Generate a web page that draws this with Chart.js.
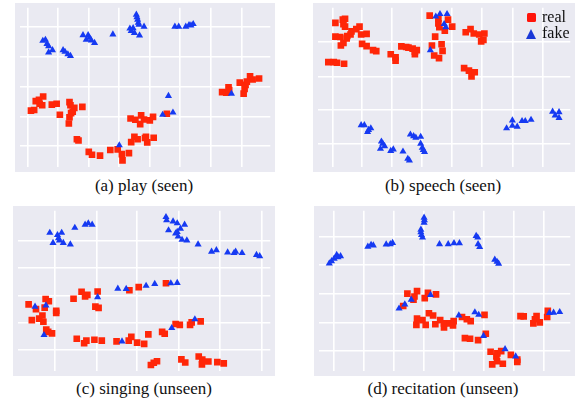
<!DOCTYPE html>
<html>
<head>
<meta charset="utf-8">
<script src="https://cdn.jsdelivr.net/npm/chart.js@4/dist/chart.umd.min.js"></script>
<style>
  html, body { margin: 0; padding: 0; background: #ffffff; }
  #wrap { position: relative; width: 577px; height: 401px; overflow: hidden; }
  .panel { position: absolute; background: #eaeaf2; }
  .cap { position: absolute; width: 240px; text-align: center; font-family: "Liberation Serif", "DejaVu Serif", serif;
         font-size: 17px; line-height: 17px; color: #111; white-space: nowrap; }
  .legtxt { position: absolute; font-family: "Liberation Serif", "DejaVu Serif", serif; font-size: 16px; line-height: 16px; color: #111; }
</style>
</head>
<body>
<div id="wrap">
  <canvas id="cA" class="panel" width="260" height="169" style="left:15px;top:3px;width:260px;height:169px"></canvas>
  <canvas id="cB" class="panel" width="262" height="169" style="left:313px;top:3px;width:262px;height:169px"></canvas>
  <canvas id="cC" class="panel" width="262" height="170" style="left:13px;top:206px;width:262px;height:170px"></canvas>
  <canvas id="cD" class="panel" width="261" height="170" style="left:314px;top:206px;width:261px;height:170px"></canvas>

  <div class="cap" style="left:24px;top:176.5px">(a) play (seen)</div>
  <div class="cap" style="left:323px;top:176.5px">(b) speech (seen)</div>
  <div class="cap" style="left:24px;top:380px">(c) singing (unseen)</div>
  <div class="cap" style="left:323px;top:380px">(d) recitation (unseen)</div>

  <div style="position:absolute;left:526.5px;top:13px;width:9px;height:9px;border-radius:1.5px;background:rgb(255,20,10)"></div>
  <div class="legtxt" style="left:542px;top:9px">real</div>
  <div style="position:absolute;left:525.5px;top:28.5px;width:0;height:0;border-left:5.5px solid transparent;border-right:5.5px solid transparent;border-bottom:10px solid rgb(25,55,215)"></div>
  <div class="legtxt" style="left:542px;top:25px">fake</div>
</div>
<script>
// t-SNE embedding coordinates (arbitrary units), per panel
const seriesNames = ["real", "fake"];
const captions = ["(a) play (seen)", "(b) speech (seen)", "(c) singing (unseen)", "(d) recitation (unseen)"];

// (a) play (seen)
const aReal = [[80,337],[90,335],[95,307],[105,303],[107,315],[115,320],[118,292],[145,318],[160,315],[170,350],
  [200,310],[203,320],[215,328],[210,340],[205,345],[200,358],[198,378],[240,325],[223,428],[228,432],
  [260,468],[270,477],[295,480],[327,462],[350,460],[363,475],[365,495],[385,472],
  [390,362],[405,366],[423,352],[420,380],[432,365],[450,368],[460,357],[503,347],
  [392,437],[402,420],[412,428],[435,424],[442,438],[438,420],[462,423],
  [675,278],[688,280],[695,263],[697,272],[730,248],[742,283],[745,268],[748,255],[752,245],[762,228],[770,238],[790,235]];
const aFake = [[408,32],[410,40],[412,48],[414,58],[416,64],[432,70],[388,76],[398,75],[392,84],[402,90],[418,98],
  [335,95],[242,97],[258,97],[262,105],[252,112],[268,114],[278,122],
  [117,115],[125,112],[130,125],[135,132],[147,145],[135,152],[180,145],[186,150],[195,158],[203,163],
  [528,70],[540,70],[562,70],[572,65],[585,62],[578,66],[508,290],[490,350],[522,343],[704,283],[355,447]];

// (b) speech (seen)
const bReal = [[125,58],[148,48],[155,45],[150,62],[155,70],
  [125,102],[140,103],[162,100],[172,95],[175,85],[190,78],[200,70],[205,95],[222,93],
  [142,130],[150,122],[160,108],[208,125],[222,132],[242,145],[252,148],
  [103,183],[120,183],[130,185],[152,188],[297,158],[312,168],[312,178],
  [330,133],[345,135],[352,137],[365,140],[372,150],[378,145],[372,158],
  [418,35],[445,45],[475,48],[445,60],[448,72],[488,70],[465,83],[435,102],[425,130],[455,126],[458,147],[432,162],[447,170],
  [530,88],[545,78],[555,92],[572,95],[588,92],[578,117],[585,112],
  [525,202],[540,210],[548,228],[558,215]];
const bFake = [[437,38],[450,30],[472,30],[463,62],[468,72],[420,145],
  [205,383],[215,383],[235,393],[228,398],[225,405],[268,435],[272,442],[278,450],[265,458],[297,465],[305,460],[335,467],[350,490],[355,495],
  [358,413],[368,418],[375,423],[390,420],[390,442],[395,455],[398,462],[402,468],
  [657,393],[675,368],[675,385],[690,388],[705,370],[715,370],[733,366],[800,340],[808,352],[820,342],[820,360]];

// (c) singing (unseen)
const cReal = [[72,315],[95,330],[125,298],[135,305],[122,325],[158,335],[158,342],[82,365],[105,360],[115,350],[118,370],[127,395],[133,402],[145,407],
  [212,297],[237,275],[248,290],[255,285],[287,274],[280,322],[290,326],[386,270],[415,260],[500,248],
  [222,424],[245,438],[252,430],[277,427],[300,430],[346,432],[384,430],[392,418],[410,436],[432,440],[445,410],[488,402],[496,408],
  [530,377],[543,380],[575,380],[580,372],[608,369],
  [453,507],[462,500],[472,495],[548,489],[560,499],[602,480],[613,490],[612,505],[632,496],[660,498],[680,502]];
const cFake = [[138,88],[148,120],[162,95],[165,105],[168,112],[175,88],[180,120],[202,125],[216,72],[248,62],[258,58],[270,62],
  [500,38],[502,48],[522,52],[535,58],[558,62],[508,80],[530,90],[535,85],[545,75],[538,100],[550,110],[565,112],[600,125],
  [642,148],[657,143],[692,150],[712,152],[717,148],[737,152],[782,158],[792,162],
  [350,265],[376,266],[438,256],[465,250],[515,248],[535,247],[287,292],
  [92,322],[126,318],[120,412],[363,432],[518,390],[590,362]];

// (d) recitation (unseen)
const dReal = [[348,281],[370,290],[378,273],[367,300],[412,278],[402,295],[437,283],[335,320],
  [378,360],[376,380],[395,365],[405,380],[415,343],[428,350],[435,378],[450,365],[462,375],[462,388],[480,375],[490,382],[492,368],
  [518,355],[533,362],[545,368],[588,348],[527,422],[543,424],[568,428],[592,408],
  [607,465],[612,505],[625,480],[628,470],[627,495],[640,463],[645,503],[670,475],[690,497],[690,490],
  [700,352],[710,353],[740,375],[745,362],[750,352],[760,372],[785,335],[783,355]];
const dFake = [[400,40],[401,48],[400,56],[390,78],[390,86],[392,95],[395,103],
  [105,185],[112,178],[120,170],[128,158],[132,165],[140,162],
  [225,132],[235,126],[242,128],[282,125],[295,124],[302,120],
  [448,124],[475,124],[493,121],[510,121],[562,98],[567,103],[568,124],[573,133],
  [620,173],[627,180],[632,186],
  [420,285],[360,300],[340,315],[322,328],[508,350],[558,340],[570,348],
  [585,415],[652,457],[685,480],[790,342],[803,341],[822,339]];

// axis ranges and grid tick values (same units as the embedding)
const aRangeX = [45, 825], aRangeY = [10, 517];
const aTicksX = [70,165,260,355,450,543,640,735], aTicksY = [72,167,262,355,450];
const bRangeX = [70, 855], bRangeY = [10, 517];
const bTicksX = [117,208,300,395,487,580,677,770], bTicksY = [118,228,335,442];
const cRangeX = [38, 825], cRangeY = [18, 527];
const cTicksX = [153,283,410,540,668,797], cTicksY = [113,200,287,373,460];
const dRangeX = [72, 855], dRangeY = [18, 527];
const dTicksX = [120,213,307,400,493,587,680,773], dTicksY = [100,190,282,372,462];

const RED = 'rgb(255,38,8)';
const BLUE = 'rgb(22,58,242)';

function pts(arr) { return arr.map(p => ({x: p[0], y: p[1]})); }

function makeChart(id, real, fake, rx, ry, tx, ty) {
  const gridOpts = { color: '#ffffff', lineWidth: 1.6, drawTicks: false };
  new Chart(document.getElementById(id), {
    type: 'scatter',
    data: {
      datasets: [
        { label: seriesNames[0], data: pts(real), pointStyle: 'rect', pointRadius: 4.7,
          backgroundColor: RED, borderColor: RED, borderWidth: 0, order: 1 },
        { label: seriesNames[1], data: pts(fake), pointStyle: 'triangle', pointRadius: 4.1,
          backgroundColor: BLUE, borderColor: BLUE, borderWidth: 0, order: 0 }
      ]
    },
    options: {
      responsive: false, animation: false, events: [],
      layout: { padding: 0 },
      plugins: { legend: { display: false }, tooltip: { enabled: false } },
      scales: {
        x: { type: 'linear', min: rx[0], max: rx[1], ticks: { display: false }, grid: gridOpts, border: { display: false },
             afterBuildTicks: s => { s.ticks = tx.map(v => ({ value: v })); } },
        y: { type: 'linear', reverse: true, min: ry[0], max: ry[1], ticks: { display: false }, grid: gridOpts, border: { display: false },
             afterBuildTicks: s => { s.ticks = ty.map(v => ({ value: v })); } }
      }
    }
  });
}

makeChart('cA', aReal, aFake, aRangeX, aRangeY, aTicksX, aTicksY);
makeChart('cB', bReal, bFake, bRangeX, bRangeY, bTicksX, bTicksY);
makeChart('cC', cReal, cFake, cRangeX, cRangeY, cTicksX, cTicksY);
makeChart('cD', dReal, dFake, dRangeX, dRangeY, dTicksX, dTicksY);
</script>
</body>
</html>
